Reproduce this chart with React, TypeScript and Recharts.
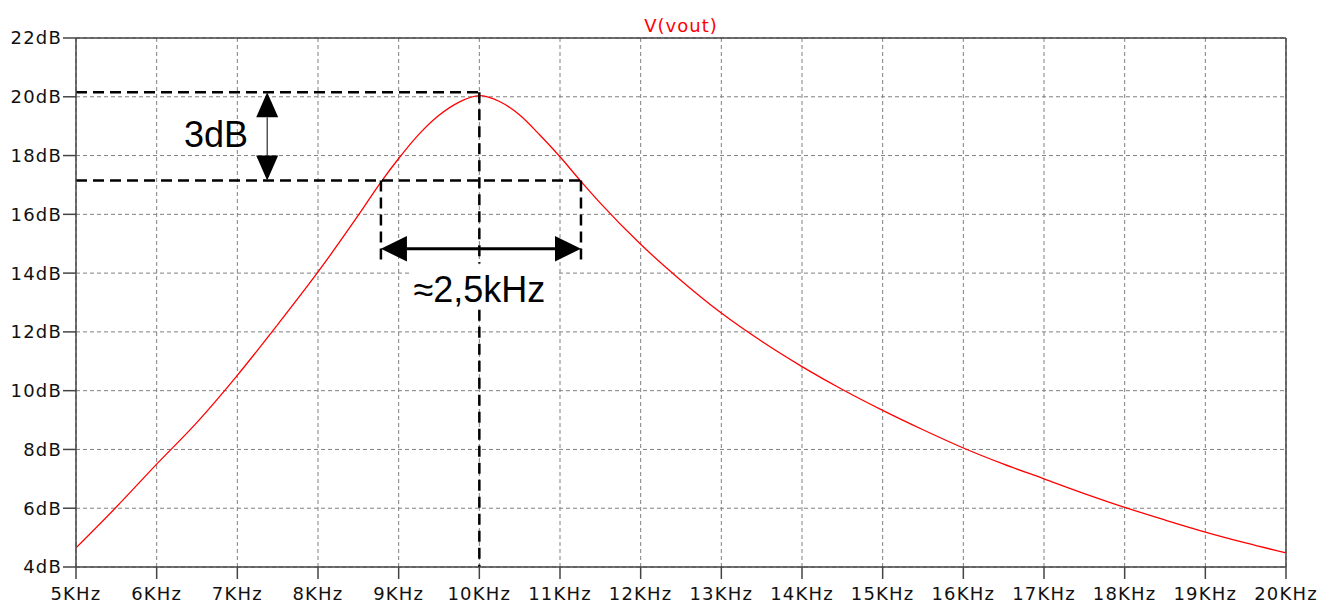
import {
  LineChart,
  Line,
  XAxis,
  YAxis,
  CartesianGrid,
  ReferenceLine,
  ReferenceDot,
  ReferenceArea,
} from "recharts";

// frequency in kHz, gain in dB
const freqs = [
  5, 5.5, 6, 6.5, 7, 7.5, 8, 8.5, 8.78, 9, 9.25, 9.5, 9.75, 10, 10.25, 10.5,
  10.75, 11, 11.26, 11.5, 12, 12.5, 13, 13.5, 14, 14.5, 15, 15.5, 16, 16.5, 17,
  17.5, 18, 18.5, 19, 19.5, 20,
];
const vout = [
  4.65, 6.04, 7.5, 8.92, 10.52, 12.25, 14.04, 15.97, 17.1, 17.9, 18.72, 19.37,
  19.82, 20.04, 19.84, 19.38, 18.7, 17.96, 17.12, 16.38, 14.98, 13.75, 12.64,
  11.68, 10.82, 10.04, 9.33, 8.67, 8.05, 7.5, 7.0, 6.5, 6.03, 5.6, 5.19, 4.82,
  4.48,
];
const xTicks = [5, 6, 7, 8, 9, 10, 11, 12, 13, 14, 15, 16, 17, 18, 19, 20];
const yTicks = [4, 6, 8, 10, 12, 14, 16, 18, 20, 22];

// bandwidth annotation
const peakLevel = 20.15;
const cutLevel = 17.15;
const fLow = 8.78;
const fHigh = 11.26;
const fCenter = 10;
const bwArrowLevel = 14.83;
const bwDropLevel = 14.27;
const dbArrowFreq = 7.37;

const data = freqs.map((f, i) => ({ f, v: vout[i] }));

const tickFont = {
  fontFamily: "DejaVu Sans",
  fontSize: 18,
  letterSpacing: 1.2,
  fill: "#111",
};

const dashed = { stroke: "#000", strokeWidth: 2.5, strokeDasharray: "11 6" };

function arrow(head: number, half: number, width: number) {
  return (p: any) => {
    const { x1, y1, x2, y2 } = p;
    const dx = x2 - x1;
    const dy = y2 - y1;
    const len = Math.hypot(dx, dy) || 1;
    const ux = dx / len;
    const uy = dy / len;
    const px = -uy;
    const py = ux;
    const tri = (tx: number, ty: number, d: number) => {
      const bx = tx - d * ux * head;
      const by = ty - d * uy * head;
      return `${tx},${ty} ${bx + px * half},${by + py * half} ${bx - px * half},${by - py * half}`;
    };
    return (
      <g>
        <line
          x1={x1 + ux * head}
          y1={y1 + uy * head}
          x2={x2 - ux * head}
          y2={y2 - uy * head}
          stroke="#000"
          strokeWidth={width}
        />
        <polygon points={tri(x1, y1, -1)} fill="#000" />
        <polygon points={tri(x2, y2, 1)} fill="#000" />
      </g>
    );
  };
}

function label(text: string, size: number, family: string, color: string) {
  return (p: any) => (
    <text
      x={p.cx}
      y={p.cy}
      textAnchor="middle"
      fontFamily={family}
      fontSize={size}
      fill={color}
    >
      {text}
    </text>
  );
}

export default function App() {
  return (
    <div style={{ position: "absolute", left: 0, top: 0, background: "#fff" }}>
      <LineChart
        width={1329}
        height={603}
        data={data}
        margin={{ top: 38, right: 43, bottom: 0, left: 0 }}
      >
        <CartesianGrid stroke="#808080" strokeDasharray="4 3" />
        <XAxis
          dataKey="f"
          type="number"
          domain={[5, 20]}
          ticks={xTicks}
          tickFormatter={(v) => `${v}KHz`}
          height={36}
          tickSize={12}
          tickMargin={8}
          tick={tickFont}
          axisLine={{ stroke: "#444", strokeWidth: 1.5 }}
          tickLine={{ stroke: "#444", strokeWidth: 1.5 }}
          interval={0}
        />
        <YAxis
          type="number"
          domain={[4, 22]}
          ticks={yTicks}
          tickFormatter={(v) => `${v}dB`}
          width={76}
          tickSize={13}
          tickMargin={1}
          tick={tickFont}
          axisLine={{ stroke: "#444", strokeWidth: 1.5 }}
          tickLine={{ stroke: "#444", strokeWidth: 1.5 }}
          interval={0}
        />
        <ReferenceLine y={22} stroke="#444" strokeWidth={1.5} />
        <ReferenceLine x={20} stroke="#444" strokeWidth={1.5} />
        <ReferenceArea
          x1={9.14}
          x2={10.96}
          y1={12.8}
          y2={14.3}
          fill="#fff"
          fillOpacity={1}
          stroke="none"
        />
        <Line
          type="monotone"
          dataKey="v"
          stroke="#ff0000"
          strokeWidth={1.3}
          dot={false}
          isAnimationActive={false}
        />
        <ReferenceLine
          segment={[
            { x: 5, y: peakLevel },
            { x: fCenter, y: peakLevel },
          ]}
          {...dashed}
        />
        <ReferenceLine
          segment={[
            { x: 5, y: cutLevel },
            { x: fHigh, y: cutLevel },
          ]}
          {...dashed}
        />
        <ReferenceLine
          segment={[
            { x: fCenter, y: peakLevel },
            { x: fCenter, y: 14.33 },
          ]}
          {...dashed}
        />
        <ReferenceLine
          segment={[
            { x: fCenter, y: 12.75 },
            { x: fCenter, y: 4 },
          ]}
          {...dashed}
        />
        <ReferenceLine
          segment={[
            { x: fLow, y: cutLevel },
            { x: fLow, y: bwDropLevel },
          ]}
          {...dashed}
        />
        <ReferenceLine
          segment={[
            { x: fHigh, y: cutLevel },
            { x: fHigh, y: bwDropLevel },
          ]}
          {...dashed}
        />
        <ReferenceLine
          segment={[
            { x: fLow, y: bwArrowLevel },
            { x: fHigh, y: bwArrowLevel },
          ]}
          shape={arrow(26, 12.8, 3)}
        />
        <ReferenceLine
          segment={[
            { x: dbArrowFreq, y: peakLevel },
            { x: dbArrowFreq, y: cutLevel },
          ]}
          shape={arrow(25, 11, 1)}
        />
        <ReferenceDot
          x={6.735}
          y={18.29}
          r={1}
          ifOverflow="visible"
          shape={label("3dB", 36, "Liberation Sans", "#000")}
        />
        <ReferenceDot
          x={fCenter}
          y={13.02}
          r={1}
          ifOverflow="visible"
          shape={label("≈2,5kHz", 36, "Liberation Sans", "#000")}
        />
        <ReferenceDot
          x={12.5}
          y={22}
          r={1}
          ifOverflow="visible"
          shape={(p: any) => (
            <text
              x={p.cx}
              y={p.cy - 6}
              textAnchor="middle"
              fontFamily="DejaVu Sans"
              fontSize={18}
              letterSpacing={1}
              fill="#ff0000"
            >
              V(vout)
            </text>
          )}
        />
      </LineChart>
    </div>
  );
}
